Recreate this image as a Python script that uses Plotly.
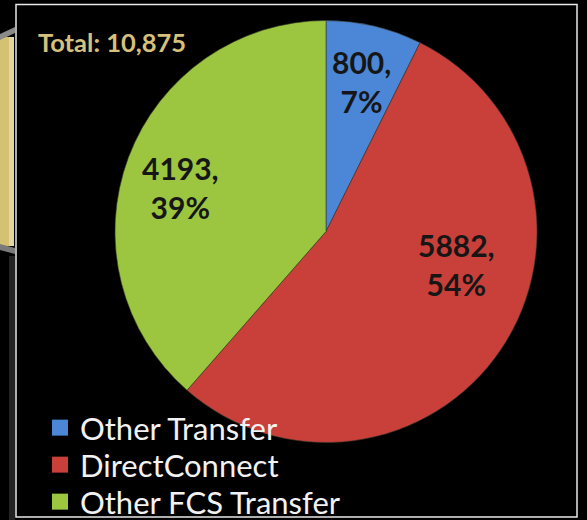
import plotly.graph_objects as go

labels = ["Other Transfer", "DirectConnect", "Other FCS Transfer"]
values = [800, 5882, 4193]
colors = ["#4b87d6", "#c93f39", "#9cc63f"]

W, H = 587, 520
total = sum(values)

def px(x):
    return x / W

def py(y):
    return 1 - y / H

fig = go.Figure()
fig.add_trace(go.Pie(
    labels=labels,
    values=values,
    sort=False,
    direction="clockwise",
    rotation=0,
    marker=dict(colors=colors, line=dict(color="#3a3a2a", width=0.6)),
    textinfo="none",
    domain=dict(x=[px(115), px(537)], y=[py(442.5), py(20.5)]),
    hoverinfo="label+value+percent",
    showlegend=False,
))

# legend entries (one legend per entry so spacing matches the original)
legend_names = ["legend", "legend2", "legend3"]
legend_rows = [428, 465, 502]
for name, col, lg in zip(labels, colors, legend_names):
    fig.add_trace(go.Scatter(
        x=[None], y=[None], mode="markers", name=name,
        marker=dict(symbol="square", size=16, color=col),
        legend=lg, showlegend=True, hoverinfo="skip",
    ))

legend_style = dict(
    x=px(40), xanchor="left", yanchor="middle",
    font=dict(family="Lato", size=31, color="#f2f2f2"),
    bgcolor="rgba(0,0,0,0)", itemclick=False, itemdoubleclick=False,
)

# data labels computed from the values
label_pos = [(361, 81), (456, 264), (180, 187)]
annotations = []
for v, (lx, ly) in zip(values, label_pos):
    pct = round(100 * v / total)
    annotations.append(dict(
        text=f"{v},<br>{pct}%", xref="paper", yref="paper",
        x=px(lx), y=py(ly), xanchor="center", yanchor="middle",
        showarrow=False, align="center",
        font=dict(family="Lato", size=30, color="#161616", weight="bold"),
    ))
annotations.append(dict(
    text=f"Total: {total:,}",
    xref="paper", yref="paper",
    x=px(36), y=py(42), xanchor="left", yanchor="middle",
    showarrow=False,
    font=dict(family="Lato", size=25.5, color="#d6c17b", weight="bold"),
))

shapes = []
# left decorative panel (beige) with grey bevels
shapes.append(dict(type="rect", xref="paper", yref="paper",
                   x0=px(0), x1=px(13), y0=py(246), y1=py(37),
                   fillcolor="#d5c172", line=dict(width=0), layer="below"))
shapes.append(dict(type="rect", xref="paper", yref="paper",
                   x0=px(9), x1=px(14), y0=py(246), y1=py(37),
                   fillcolor="#e4d79e", line=dict(width=0), layer="below"))
shapes.append(dict(type="path", xref="paper", yref="paper",
                   path=f"M {px(0)},{py(34)} L {px(15)},{py(27)} L {px(15)},{py(33)} L {px(0)},{py(40)} Z",
                   fillcolor="#8a8a8a", line=dict(width=0), layer="below"))
shapes.append(dict(type="path", xref="paper", yref="paper",
                   path=f"M {px(0)},{py(244)} L {px(15)},{py(248)} L {px(15)},{py(254)} L {px(0)},{py(250)} Z",
                   fillcolor="#7a7a7a", line=dict(width=0), layer="below"))
shapes.append(dict(type="rect", xref="paper", yref="paper",
                   x0=px(9), x1=px(15), y0=py(520), y1=py(256),
                   fillcolor="#3a3a3a", opacity=0.6, line=dict(width=0), layer="below"))
# white frame
shapes.append(dict(type="rect", xref="paper", yref="paper",
                   x0=px(16), x1=px(577), y0=py(517), y1=py(4.5),
                   fillcolor="rgba(0,0,0,0)", line=dict(color="#e8e8e8", width=1.5)))

fig.update_layout(
    width=W, height=H,
    margin=dict(l=0, r=0, t=0, b=0, autoexpand=False),
    paper_bgcolor="#000000",
    plot_bgcolor="rgba(0,0,0,0)",
    xaxis=dict(visible=False, range=[0, 1]),
    yaxis=dict(visible=False, range=[0, 1]),
    shapes=shapes,
    annotations=annotations,
    showlegend=True,
    legend=dict(y=py(legend_rows[0]), **legend_style),
    legend2=dict(y=py(legend_rows[1]), **legend_style),
    legend3=dict(y=py(legend_rows[2]), **legend_style),
)

fig.write_html(
    "out.html",
    config={"displayModeBar": False},
    post_script="document.body.style.margin='0';document.body.style.background='#000';",
)
